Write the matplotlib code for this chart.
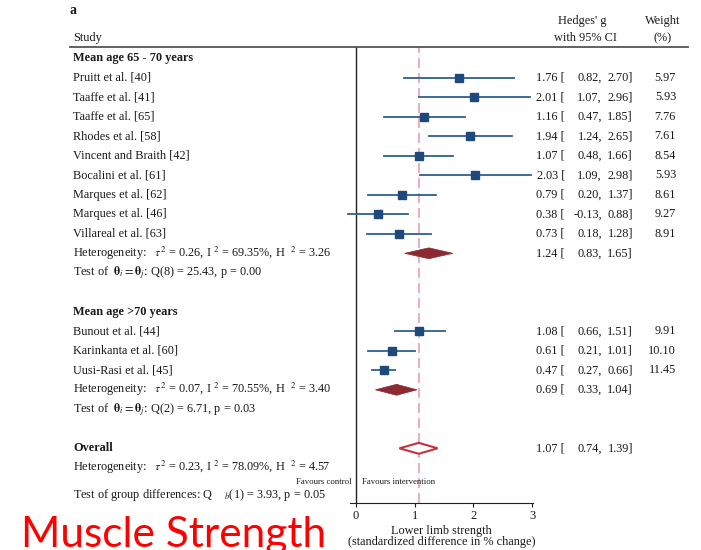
import numpy as np
import matplotlib
matplotlib.use('Agg')
import matplotlib.pyplot as plt
from matplotlib.lines import Line2D
from matplotlib.patches import Polygon
import matplotlib.transforms as mtrans

plt.rcParams['font.family'] = ['Liberation Serif', 'DejaVu Serif']
plt.rcParams['mathtext.fontset'] = 'stix'

# ---- data ----
g1_names = ['Pruitt et al. [40]', 'Taaffe et al. [41]', 'Taaffe et al. [65]',
            'Rhodes et al. [58]', 'Vincent and Braith [42]', 'Bocalini et al. [61]',
            'Marques et al. [62]', 'Marques et al. [46]', 'Villareal et al. [63]']
g1_est = [1.76, 2.01, 1.16, 1.94, 1.07, 2.03, 0.79, 0.38, 0.73]
g1_lo = [0.82, 1.07, 0.47, 1.24, 0.48, 1.09, 0.20, -0.13, 0.18]
g1_hi = [2.70, 2.96, 1.85, 2.65, 1.66, 2.98, 1.37, 0.88, 1.28]
g1_w = [5.97, 5.93, 7.76, 7.61, 8.54, 5.93, 8.61, 9.27, 8.91]
g1_pool = (1.24, 0.83, 1.65)
g1_het = r'Heterogeneity:   $\tau^2$ = 0.26, I $^2$ = 69.35%, H  $^2$ = 3.26'
g1_test = r'Test of  $\mathbf{\theta}_i = \mathbf{\theta}_j$: Q(8) = 25.43, p = 0.00'

g2_names = ['Bunout et al. [44]', 'Karinkanta et al. [60]', 'Uusi-Rasi et al. [45]']
g2_est = [1.08, 0.61, 0.47]
g2_lo = [0.66, 0.21, 0.27]
g2_hi = [1.51, 1.01, 0.66]
g2_w = [9.91, 10.10, 11.45]
g2_pool = (0.69, 0.33, 1.04)
g2_het = r'Heterogeneity:   $\tau^2$ = 0.07, I $^2$ = 70.55%, H  $^2$ = 3.40'
g2_test = r'Test of  $\mathbf{\theta}_i = \mathbf{\theta}_j$: Q(2) = 6.71, p = 0.03'

overall = (1.07, 0.74, 1.39)
overall_het = r'Heterogeneity:   $\tau^2$ = 0.23, I $^2$ = 78.09%, H  $^2$ = 4.57'
group_test = r'Test of group differences: Q    ${}_b$(1) = 3.93, p = 0.05'

groups = [('Mean age 65 - 70 years', g1_names, g1_est, g1_lo, g1_hi, g1_w, g1_pool, g1_het, g1_test),
          ('Mean age >70 years', g2_names, g2_est, g2_lo, g2_hi, g2_w, g2_pool, g2_het, g2_test)]

xticks = [0, 1, 2, 3]

# ---- figure ----
W, H = 701, 550
fig = plt.figure(figsize=(W / 100, H / 100), dpi=100)
x0, x1 = -0.1, 3.02
px_unit = 58.7
ax_left = 356 + x0 * px_unit
ax_right = 356 + x1 * px_unit
ax_top, ax_bot = 47, 503
ax = fig.add_axes([ax_left / W, (H - ax_bot) / H, (ax_right - ax_left) / W, (ax_bot - ax_top) / H])
row0, step = 58.3, 19.5
ax.set_xlim(x0, x1)
ax.set_ylim((ax_bot - row0) / step, (ax_top - row0) / step)

tc = '#1a1a1a'
fs = 8.8
sq_col = '#1d4a7a'
ci_col = '#2f5f8f'
dia_col = '#8b2a33'
tr = mtrans.blended_transform_factory(fig.transFigure, ax.transData)


def fx(px):
    return px / W


def effect_text(r, e, lo, hi, w=None):
    ax.text(fx(565), r, '%.2f [' % e, transform=tr, ha='right', va='center', fontsize=fs, color=tc)
    ax.text(fx(602), r, '%.2f,' % lo, transform=tr, ha='right', va='center', fontsize=fs, color=tc)
    ax.text(fx(633), r, '%.2f]' % hi, transform=tr, ha='right', va='center', fontsize=fs, color=tc)
    if w is not None:
        ax.text(fx(676), r, '%.2f' % w, transform=tr, ha='right', va='center', fontsize=fs, color=tc)


def diamond(r, e, lo, hi, filled=True):
    h = 0.28
    pts = [(lo, r), (e, r - h), (hi, r), (e, r + h)]
    if filled:
        p = Polygon(pts, closed=True, facecolor=dia_col, edgecolor=dia_col, lw=0.5, zorder=4)
    else:
        p = Polygon(pts, closed=True, facecolor='white', edgecolor='#c8303c', lw=1.5, zorder=4)
    ax.add_patch(p)


row = 0
for title, names, est, lo, hi, w, pool, het, test in groups:
    ax.text(fx(73), row, title, transform=tr, ha='left', va='center', fontsize=fs,
            fontweight='bold', color=tc)
    row += 1
    for i in range(len(names)):
        ax.text(fx(73), row, names[i], transform=tr, ha='left', va='center', fontsize=fs, color=tc)
        ax.plot([lo[i], hi[i]], [row, row], color=ci_col, lw=1.3, zorder=3, clip_on=False)
        ax.plot(est[i], row, 's', color=sq_col, ms=5.5, zorder=5, clip_on=False)
        effect_text(row, est[i], lo[i], hi[i], w[i])
        row += 1
    ax.text(fx(73), row, het, transform=tr, ha='left', va='center', fontsize=fs, color=tc)
    diamond(row, *pool)
    effect_text(row, *pool)
    row += 1
    ax.text(fx(73), row, test, transform=tr, ha='left', va='center', fontsize=fs, color=tc)
    row += 2

ax.text(fx(73), row, 'Overall', transform=tr, ha='left', va='center', fontsize=fs,
        fontweight='bold', color=tc)
diamond(row, *overall, filled=False)
effect_text(row, *overall)
row += 1
ax.text(fx(73), row, overall_het, transform=tr, ha='left', va='center', fontsize=fs, color=tc)
ax.text(fx(73), row + 1.4, group_test, transform=tr, ha='left', va='center', fontsize=fs, color=tc)

ax.text(-0.07, row + 0.72, 'Favours control', ha='right', va='center', fontsize=6.3, color=tc)
ax.text(0.1, row + 0.72, 'Favours intervention', ha='left', va='center', fontsize=6.3, color=tc)

# reference lines
ax.axvline(0, color='#222222', lw=1.0, zorder=2)
ax.axvline(overall[0], color='#e8a0b4', lw=1.2, ls=(0, (6, 3)), zorder=1)

for s in ['left', 'top', 'right']:
    ax.spines[s].set_visible(False)
ax.spines['bottom'].set_color('#222222')
ax.set_yticks([])
ax.set_xticks(xticks)
ax.tick_params(axis='x', length=3, labelsize=9, colors=tc, pad=2)
ax.set_xlabel('Lower limb strength\n(standardized difference in % change)', fontsize=8.8,
              color=tc, labelpad=2, linespacing=0.95)

# header
ax.text(fx(73), -1.05, 'Study', transform=tr, ha='left', va='center', fontsize=fs, color=tc)
ax.text(fx(582), -1.9, "Hedges' g", transform=tr, ha='center', va='center', fontsize=fs, color=tc)
ax.text(fx(585), -1.05, 'with 95% CI', transform=tr, ha='center', va='center', fontsize=fs, color=tc)
ax.text(fx(663), -1.9, 'Weight', transform=tr, ha='center', va='center', fontsize=fs, color=tc)
ax.text(fx(663), -1.05, '(%)', transform=tr, ha='center', va='center', fontsize=fs, color=tc)
fig.text(fx(70), 1 - 10 / H, 'a', ha='left', va='center', fontsize=10, fontweight='bold', color=tc)
fig.add_artist(Line2D([fx(70), fx(688)], [1 - 47 / H, 1 - 47 / H], color='#555555', lw=1.3))

# caption is cut by the bottom edge in the original too
fig.text(fx(21), 3 / H, 'Muscle Strength', ha='left', va='baseline', fontsize=30.5,
         color='#ff0000', family='Lato')

fig.savefig('out.png', dpi=100)
